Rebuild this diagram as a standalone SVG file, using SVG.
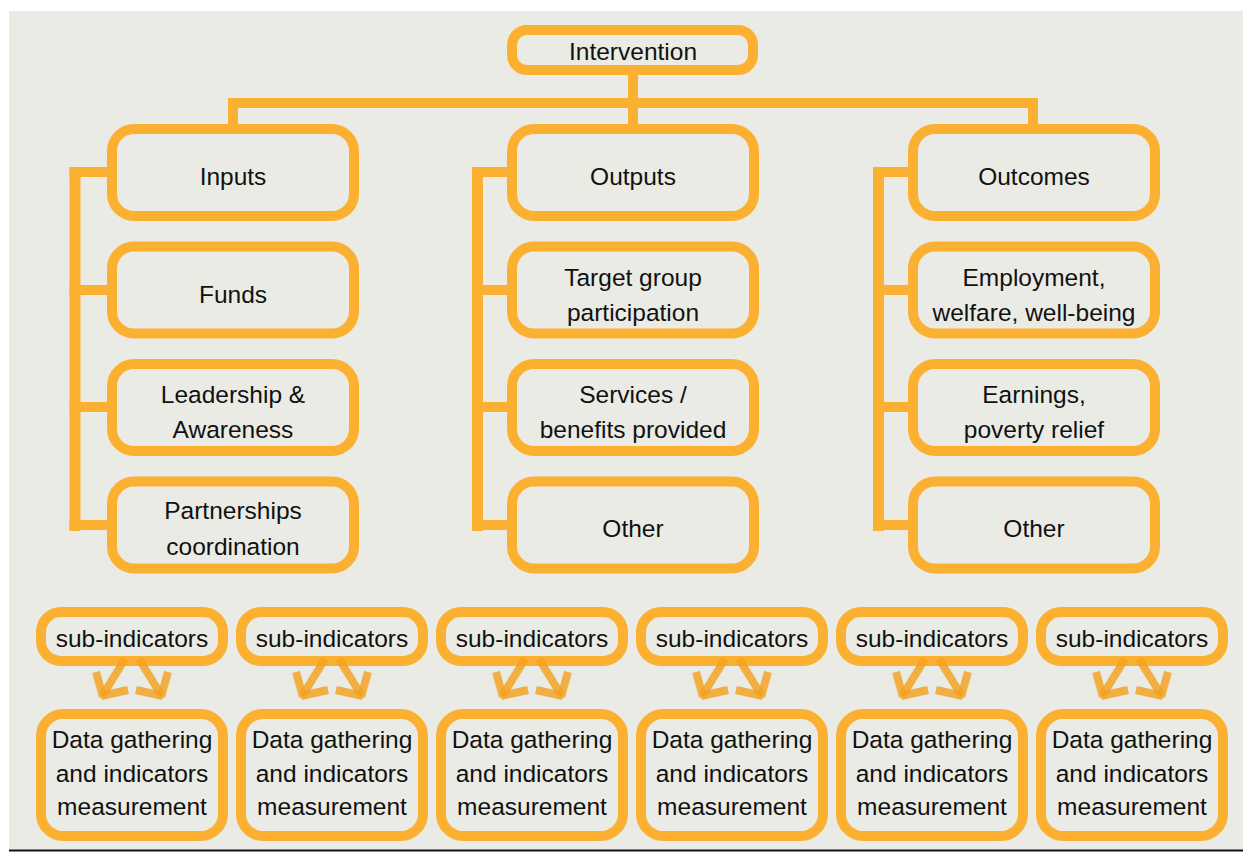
<svg xmlns="http://www.w3.org/2000/svg" width="1243" height="853" viewBox="0 0 1243 853">
<defs>
<style>
.bx{fill:none;stroke:#FBB031;stroke-width:10}
.ln{fill:#FBB031}
.t{font-family:"Liberation Sans",Arial,sans-serif;font-size:24.5px;fill:#111;text-anchor:middle}
.ar{fill:none;stroke:#F2A11E;stroke-width:8;stroke-opacity:0.82;stroke-linecap:butt;stroke-linejoin:miter}
</style>
<g id="arrows-tpl">
<path class="ar" d="M125,659 L104,693"/>
<path class="ar" d="M96,672 L103,697"/>
<path class="ar" d="M101,696 L128,690"/>
<path class="ar" d="M139,659 L160,693"/>
<path class="ar" d="M168,672 L161,697"/>
<path class="ar" d="M163,696 L136,690"/>
</g>
</defs>
<rect x="0" y="0" width="1243" height="853" fill="#ffffff"/>
<rect x="9" y="11" width="1234" height="839" fill="#EBEBE5"/>
<rect x="9" y="849.5" width="1234" height="2" fill="#111"/>

<g id="intervention"><rect class="bx" x="512" y="30" width="241" height="40" rx="15"/><text class="t" x="633" y="60">Intervention</text></g>

<g id="inputs"><rect class="bx" x="112" y="129" width="242" height="87" rx="22"/><text class="t" x="233" y="185">Inputs</text></g>
<g id="funds"><rect class="bx" x="112" y="246.5" width="242" height="87" rx="22"/><text class="t" x="233" y="303">Funds</text></g>
<g id="leadership"><rect class="bx" x="112" y="364" width="242" height="87" rx="22"/><text class="t" x="233" y="403">Leadership &amp;</text><text class="t" x="233" y="438">Awareness</text></g>
<g id="partnerships"><rect class="bx" x="112" y="481.5" width="242" height="87" rx="22"/><text class="t" x="233" y="519">Partnerships</text><text class="t" x="233" y="555">coordination</text></g>

<g id="outputs"><rect class="bx" x="512" y="129" width="242" height="87" rx="22"/><text class="t" x="633" y="185">Outputs</text></g>
<g id="target"><rect class="bx" x="512" y="246.5" width="242" height="87" rx="22"/><text class="t" x="633" y="286">Target group</text><text class="t" x="633" y="321">participation</text></g>
<g id="services"><rect class="bx" x="512" y="364" width="242" height="87" rx="22"/><text class="t" x="633" y="403">Services /</text><text class="t" x="633" y="438">benefits provided</text></g>
<g id="other-outputs"><rect class="bx" x="512" y="481.5" width="242" height="87" rx="22"/><text class="t" x="633" y="537">Other</text></g>

<g id="outcomes"><rect class="bx" x="913" y="129" width="242" height="87" rx="22"/><text class="t" x="1034" y="185">Outcomes</text></g>
<g id="employment"><rect class="bx" x="913" y="246.5" width="242" height="87" rx="22"/><text class="t" x="1034" y="286">Employment,</text><text class="t" x="1034" y="321">welfare, well-being</text></g>
<g id="earnings"><rect class="bx" x="913" y="364" width="242" height="87" rx="22"/><text class="t" x="1034" y="403">Earnings,</text><text class="t" x="1034" y="438">poverty relief</text></g>
<g id="other-outcomes"><rect class="bx" x="913" y="481.5" width="242" height="87" rx="22"/><text class="t" x="1034" y="537">Other</text></g>

<g id="sub1"><rect class="bx" x="41" y="612" width="182" height="49" rx="20"/><text class="t" x="132" y="647">sub-indicators</text></g>
<g id="sub2"><rect class="bx" x="241" y="612" width="182" height="49" rx="20"/><text class="t" x="332" y="647">sub-indicators</text></g>
<g id="sub3"><rect class="bx" x="441" y="612" width="182" height="49" rx="20"/><text class="t" x="532" y="647">sub-indicators</text></g>
<g id="sub4"><rect class="bx" x="641" y="612" width="182" height="49" rx="20"/><text class="t" x="732" y="647">sub-indicators</text></g>
<g id="sub5"><rect class="bx" x="841" y="612" width="182" height="49" rx="20"/><text class="t" x="932" y="647">sub-indicators</text></g>
<g id="sub6"><rect class="bx" x="1041" y="612" width="182" height="49" rx="20"/><text class="t" x="1132" y="647">sub-indicators</text></g>

<g id="data1"><rect class="bx" x="41" y="714" width="182" height="122" rx="22"/><text class="t" x="132" y="748">Data gathering</text><text class="t" x="132" y="782">and indicators</text><text class="t" x="132" y="815">measurement</text></g>
<g id="data2"><rect class="bx" x="241" y="714" width="182" height="122" rx="22"/><text class="t" x="332" y="748">Data gathering</text><text class="t" x="332" y="782">and indicators</text><text class="t" x="332" y="815">measurement</text></g>
<g id="data3"><rect class="bx" x="441" y="714" width="182" height="122" rx="22"/><text class="t" x="532" y="748">Data gathering</text><text class="t" x="532" y="782">and indicators</text><text class="t" x="532" y="815">measurement</text></g>
<g id="data4"><rect class="bx" x="641" y="714" width="182" height="122" rx="22"/><text class="t" x="732" y="748">Data gathering</text><text class="t" x="732" y="782">and indicators</text><text class="t" x="732" y="815">measurement</text></g>
<g id="data5"><rect class="bx" x="841" y="714" width="182" height="122" rx="22"/><text class="t" x="932" y="748">Data gathering</text><text class="t" x="932" y="782">and indicators</text><text class="t" x="932" y="815">measurement</text></g>
<g id="data6"><rect class="bx" x="1041" y="714" width="182" height="122" rx="22"/><text class="t" x="1132" y="748">Data gathering</text><text class="t" x="1132" y="782">and indicators</text><text class="t" x="1132" y="815">measurement</text></g>

<g id="connectors">
<rect class="ln" x="628" y="74" width="10" height="52"/>
<rect class="ln" x="228" y="98" width="810" height="10"/>
<rect class="ln" x="228" y="98" width="10" height="27"/>
<rect class="ln" x="1028" y="98" width="10" height="27"/>
<rect class="ln" x="69.5" y="167" width="11" height="364"/>
<rect class="ln" x="69.5" y="167" width="39" height="10"/>
<rect class="ln" x="69.5" y="285" width="39" height="10"/>
<rect class="ln" x="69.5" y="402" width="39" height="10"/>
<rect class="ln" x="69.5" y="520" width="39" height="10"/>
<rect class="ln" x="472" y="167" width="11" height="364"/>
<rect class="ln" x="472" y="167" width="36" height="10"/>
<rect class="ln" x="472" y="285" width="36" height="10"/>
<rect class="ln" x="472" y="402" width="36" height="10"/>
<rect class="ln" x="472" y="520" width="36" height="10"/>
<rect class="ln" x="873" y="167" width="11" height="364"/>
<rect class="ln" x="873" y="167" width="36" height="10"/>
<rect class="ln" x="873" y="285" width="36" height="10"/>
<rect class="ln" x="873" y="402" width="36" height="10"/>
<rect class="ln" x="873" y="520" width="36" height="10"/>
<use href="#arrows-tpl"/>
<use href="#arrows-tpl" x="200"/>
<use href="#arrows-tpl" x="400"/>
<use href="#arrows-tpl" x="600"/>
<use href="#arrows-tpl" x="800"/>
<use href="#arrows-tpl" x="1000"/>
</g>
</svg>
